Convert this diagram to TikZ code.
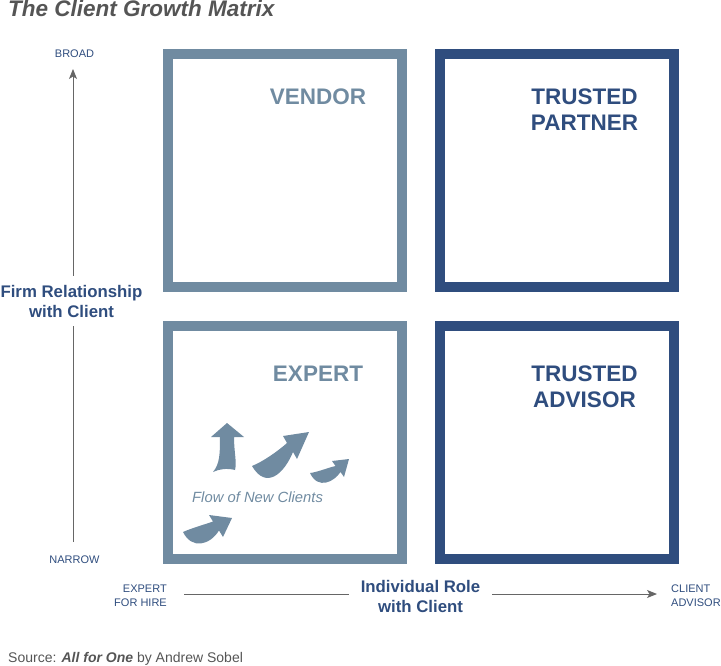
\documentclass[tikz,border=0pt]{standalone}
\usepackage{fontspec}
\setmainfont{Liberation Sans}
\usetikzlibrary{arrows.meta}
\definecolor{lightbox}{RGB}{112,139,161}
\definecolor{darkbox}{RGB}{47,77,126}
\definecolor{titlegray}{RGB}{85,85,85}
\definecolor{axisgray}{RGB}{102,102,102}

\begin{document}
\begin{tikzpicture}[x=1pt,y=-1pt,>={Stealth[length=10pt,width=8pt,inset=2.5pt]},
	quad/.style={line width=10pt},
	tag/.style={font=\fontsize{11}{14}\selectfont,text=darkbox,inner sep=0pt,align=#1},
	tag/.default=center,
	axislabel/.style={font=\bfseries\fontsize{16.8}{20}\selectfont,text=darkbox,align=center},
	cell/.style={font=\bfseries\fontsize{22.5}{26}\selectfont,align=center,inner sep=0pt},
	axis/.style={draw=axisgray,line width=1pt}]
	\useasboundingbox (0,0) rectangle (721,666);
	\node[anchor=base west,inner sep=0pt,text=titlegray,font=\bfseries\itshape\fontsize{22.5}{26}\selectfont] (title) at (8,17) {The Client Growth Matrix};
	% the four cells
	\draw[quad,lightbox] (168,54) rectangle (402,287);
	\draw[quad,darkbox] (440,54) rectangle (674,287);
	\draw[quad,lightbox] (168,325.5) rectangle (402,558.5);
	\draw[quad,darkbox] (440,325.5) rectangle (674,558.5);
	\node[cell,text=lightbox,anchor=base] (vendor) at (318,105) {VENDOR};
	\node[cell,text=darkbox,anchor=base] (partner) at (584.5,131) {TRUSTED\\PARTNER};
	\node[cell,text=lightbox,anchor=base] (expert) at (318,381) {EXPERT};
	\node[cell,text=darkbox,anchor=base] (advisor) at (584.5,407) {TRUSTED\\ADVISOR};
	% vertical axis
	\node[tag,anchor=base] (broad) at (74.5,58) {BROAD};
	\node[tag,anchor=base] (narrow) at (74.5,563) {NARROW};
	\node[axislabel,anchor=base,inner xsep=0pt,inner ysep=9pt] (firm) at (71.5,317) {Firm Relationship\\with Client};
	\coordinate (vbot) at (73,542);
	\coordinate (vtop) at (73,69);
	\draw[axis] (vbot) -- (vbot|-firm.south);
	\draw[axis,->] (vtop|-firm.north) -- (vtop);
	% horizontal axis
	\node[tag=right,anchor=base east] (hire) at (167,606) {EXPERT\\FOR HIRE};
	\node[tag=left,anchor=base west] (client) at (671,606) {CLIENT\\ADVISOR};
	\node[axislabel,anchor=base,inner xsep=12pt,inner ysep=0pt] (role) at (420.5,612) {Individual Role\\with Client};
	\coordinate (hleft) at (184,594);
	\coordinate (hright) at (657,594);
	\draw[axis] (hleft) -- (hleft-|role.west);
	\draw[axis,->] (hright-|role.east) -- (hright);
	% flow of new clients
	\fill[lightbox] (213,472) .. controls (220,464) and (220,452) .. (220,437) -- (211,437) -- (227,423) -- (244,437) -- (234,437)
		.. controls (234,452) and (237,462) .. (235,470) .. controls (227,468) and (219,469) .. cycle;
	\fill[lightbox] (252,466) .. controls (262,462) and (277,452) .. (287,443) -- (283,436) -- (309,432) -- (297,459) -- (293,452)
		.. controls (284,474) and (266,490) .. cycle;
	\fill[lightbox] (310,473) .. controls (318,472) and (327,468) .. (335.5,466) -- (332,461) -- (349,459) -- (344,477) -- (340.5,472)
		.. controls (334,482) and (318,490) .. cycle;
	\fill[lightbox] (183,532) .. controls (192,528) and (203,525) .. (213,521.5) -- (209,515) -- (232,518) -- (223,537) -- (219,530.5)
		.. controls (210,545) and (192,550) .. cycle;
	\node[anchor=base west,inner sep=0pt,text=lightbox,font=\itshape\fontsize{14.8}{17}\selectfont] (flow) at (192,502) {Flow of New Clients};
	\node[anchor=base west,inner sep=0pt,text=titlegray,font=\fontsize{14}{16}\selectfont] (source) at (8,662) {Source: \textbf{\textit{All for One}} by Andrew Sobel};
\end{tikzpicture}
\end{document}
